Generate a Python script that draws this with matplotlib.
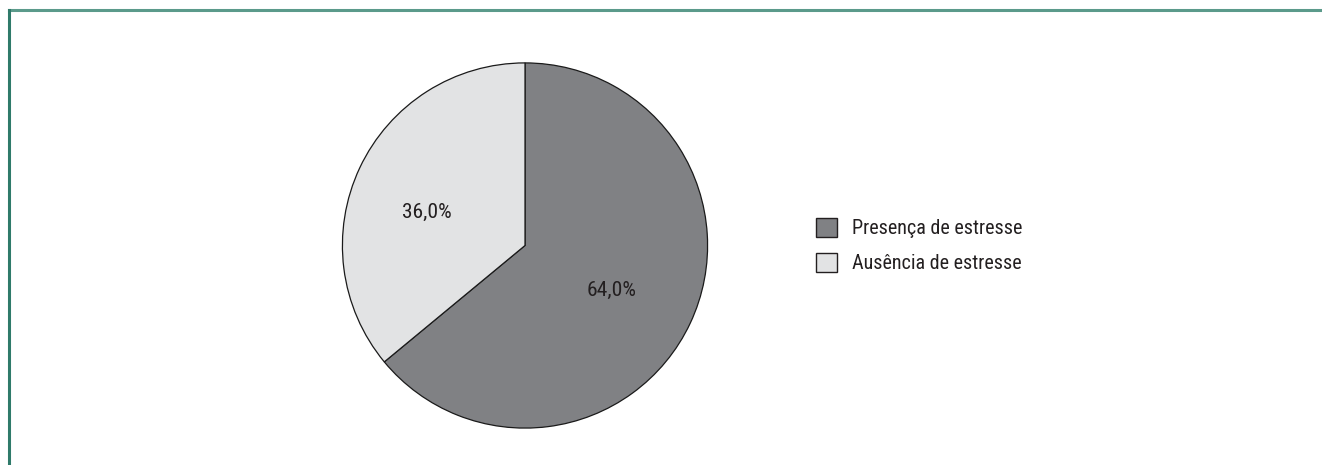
import matplotlib
matplotlib.use("Agg")
import matplotlib.pyplot as plt
from matplotlib.patches import Patch
from matplotlib import font_manager

categories = ["Presença de estresse", "Ausência de estresse"]
values = [64.0, 36.0]
labels = ["64,0%", "36,0%"]
colors = ["#808184", "#e2e3e4"]

names = {f.name for f in font_manager.fontManager.ttflist}
fam = "Liberation Sans"
for cand in ["Liberation Sans Narrow", "Roboto Condensed", "Open Sans Condensed",
             "DejaVu Sans Condensed", "Liberation Sans"]:
    if cand in names:
        fam = cand
        break
plt.rcParams["font.family"] = [fam, "DejaVu Sans"]

W, H = 1322, 465
fig = plt.figure(figsize=(W / 100, H / 100), dpi=100)
fig.patch.set_facecolor("white")

# choose a font size so the legend text spans about as wide as in the reference
renderer = fig.canvas.get_renderer()
probe = fig.text(0, 0, categories[0], fontsize=14)
w14 = probe.get_window_extent(renderer).width
probe.remove()
fs = max(11.5, min(14.5, 14.0 * 172.0 / w14))

# frame lines (top and left)
fig.add_artist(plt.Line2D([8.5 / W, 1.0], [1 - 10.5 / H, 1 - 10.5 / H], color="#5b9a8b", lw=2.2, transform=fig.transFigure))
fig.add_artist(plt.Line2D([8.5 / W, 8.5 / W], [0, 1 - 10.5 / H], color="#2f7a6a", lw=2.2, transform=fig.transFigure))

cx, cy, r = 525, 245.5, 183.5
ax = fig.add_axes([(cx - r) / W, 1 - (cy + r) / H, 2 * r / W, 2 * r / H])
wedges, _ = ax.pie(values, colors=colors, startangle=90, counterclock=False,
                   wedgeprops=dict(edgecolor="#1a1a1a", linewidth=0.9), radius=1)
ax.set_xlim(-1.005, 1.005)
ax.set_ylim(-1.005, 1.005)
ax.set_aspect("equal")
ax.axis("off")

lfs = fs * 1.07
ax.text(0.474, -0.248, labels[0], ha="center", va="center", fontsize=lfs, color="#231f20")
ax.text(-0.54, 0.183, labels[1], ha="center", va="center", fontsize=lfs, color="#231f20")

handles = [Patch(facecolor=c, edgecolor="#231f20", linewidth=1.0) for c in colors]
leg = fig.legend(handles, categories, loc="upper left",
                 bbox_to_anchor=(816 / W, 1 - 218 / H), frameon=False,
                 fontsize=fs, handlelength=1.05, handleheight=1.05,
                 handletextpad=0.75, labelspacing=0.75, borderpad=0,
                 borderaxespad=0)
for t in leg.get_texts():
    t.set_color("#231f20")

fig.savefig("out.png", dpi=100, facecolor="white")
